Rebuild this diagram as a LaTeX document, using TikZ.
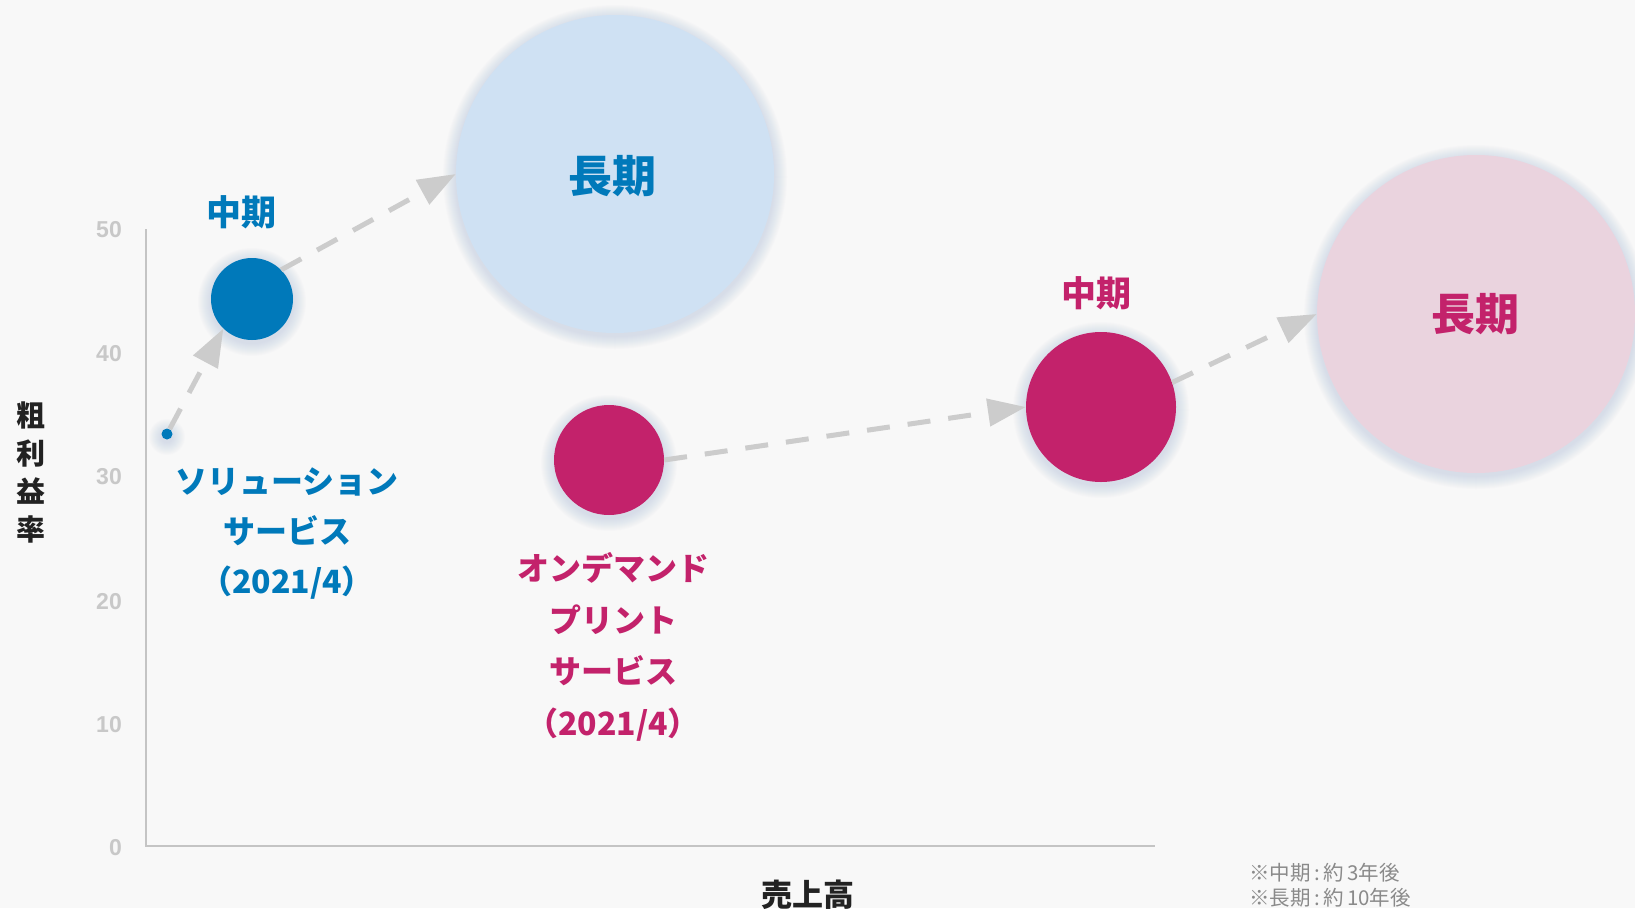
\documentclass[tikz,border=0pt]{standalone}
\usepackage{fontspec}
\setmainfont{Noto Sans CJK JP}
\newfontfamily\tickfont{Liberation Sans}
\usetikzlibrary{arrows.meta}
\definecolor{bgc}{HTML}{F8F8F8}
\definecolor{cblue}{HTML}{0079BA}
\definecolor{cpink}{HTML}{C3226B}
\definecolor{lblue}{HTML}{CFE1F3}
\definecolor{lpink}{HTML}{EAD3DE}
\definecolor{arrowgray}{HTML}{CCCCCC}
\definecolor{axisgray}{HTML}{C4C4C4}
\definecolor{tickgray}{HTML}{C8C8C8}
\definecolor{notegray}{HTML}{8A8A8A}
\definecolor{glowc}{HTML}{A4B6D4}
\definecolor{inkc}{HTML}{222222}
\newcommand\myglow[2]{\foreach \i in {1,...,13}{\fill[glowc,opacity=0.03] ([yshift=-3pt]#1) circle[radius={(#2+\i)*1pt}];}}
\begin{document}
\begin{tikzpicture}[x=1pt,y=-1pt,
  bubble/.style={circle,inner sep=0pt,minimum size=#1,draw=none},
  flow/.style={draw=arrowgray,line width=5pt,dash pattern=on 23pt off 18pt,
    -{Triangle[length=38pt,width=27pt,fill=arrowgray]}},
  tick/.style={anchor=east,inner sep=0pt,text=tickgray,font=\tickfont\bfseries\fontsize{23}{23}\selectfont},
  term/.style={inner sep=0pt,font=\bfseries\fontsize{35}{42}\selectfont},
  longterm/.style={inner sep=0pt,font=\bfseries\fontsize{44}{50}\selectfont},
  label/.style={inner sep=0pt,align=center,font=\bfseries\fontsize{32}{#1}\selectfont},
  axislabel/.style={inner sep=0pt,align=center,text=inkc,font=\bfseries\fontsize{29}{#1}\selectfont},
  note/.style={anchor=west,inner sep=0pt,text=notegray,font=\fontsize{20.5}{20.5}\selectfont},
  axis/.style={draw=axisgray,line width=2pt}
]
\useasboundingbox (0,0) rectangle (1635,908);
\fill[bgc] (0,0) rectangle (1635,908);

% axes
\coordinate (origin) at (146,846);
\coordinate (ytop) at (146,229);
\coordinate (xend) at (1155,846);
\draw[axis] (ytop) -- (origin) -- (xend);

% ticks
\node[tick] (t50) at (122,230) {50};
\node[tick] (t40) at (122,354) {40};
\node[tick] (t30) at (122,477) {30};
\node[tick] (t20) at (122,602) {20};
\node[tick] (t10) at (122,725) {10};
\node[tick] (t0) at (122,848) {0};

% bubble centres
\coordinate (dotC) at (167,434);
\coordinate (bmC) at (252,299);
\coordinate (blC) at (615,174);
\coordinate (spC) at (609,460);
\coordinate (mpC) at (1101,407);
\coordinate (bpC) at (1476,314);

% glows
\myglow{dotC}{5}
\myglow{bmC}{41}
\myglow{blC}{159}
\myglow{spC}{55}
\myglow{mpC}{75}
\myglow{bpC}{159}

% bubbles
\node[bubble=11pt,fill=cblue] (dot) at (dotC) {};
\node[bubble=82pt,fill=cblue] (bm) at (bmC) {};
\node[bubble=318pt,fill=lblue] (bl) at (blC) {};
\node[bubble=110pt,fill=cpink] (sp) at (spC) {};
\node[bubble=150pt,fill=cpink] (mp) at (mpC) {};
\node[bubble=318pt,fill=lpink] (bp) at (bpC) {};

% arrows
\draw[flow] (dot) -- (bm.226);
\draw[flow] (bm.45) -- (bl.west);
\draw[flow] (sp.east) -- (mp.west);
\draw[flow] (mp.19) -- (bp.west);

% bubble labels
\node[term,text=cblue] (bmlab) at (241,212) {中期};
\node[longterm,text=cblue] (bllab) at (612,176) {長期};
\node[term,text=cpink] (mplab) at (1096,293) {中期};
\node[longterm,text=cpink] (bplab) at (1475,314) {長期};

% series labels
\node[label=50pt,text=cblue] (solution) at (287,534) {ソリューション\\サービス\\（2021/4）};
\node[label=51.5pt,text=cpink] (ondemand) at (613,647) {オンデマンド\\プリント\\サービス\\（2021/4）};

% axis titles
\node[axislabel=38pt] (ytitle) at (31,472) {粗\\利\\益\\率};
\node[inner sep=0pt,text=inkc,font=\bfseries\fontsize{31}{31}\selectfont] (xtitle) at (808,895) {売上高};

% notes
\node[note] (note1) at (1249,873) {※中期\,:\,約\,3年後};
\node[note] (note2) at (1249,898) {※長期\,:\,約\,10年後};
\end{tikzpicture}
\end{document}
